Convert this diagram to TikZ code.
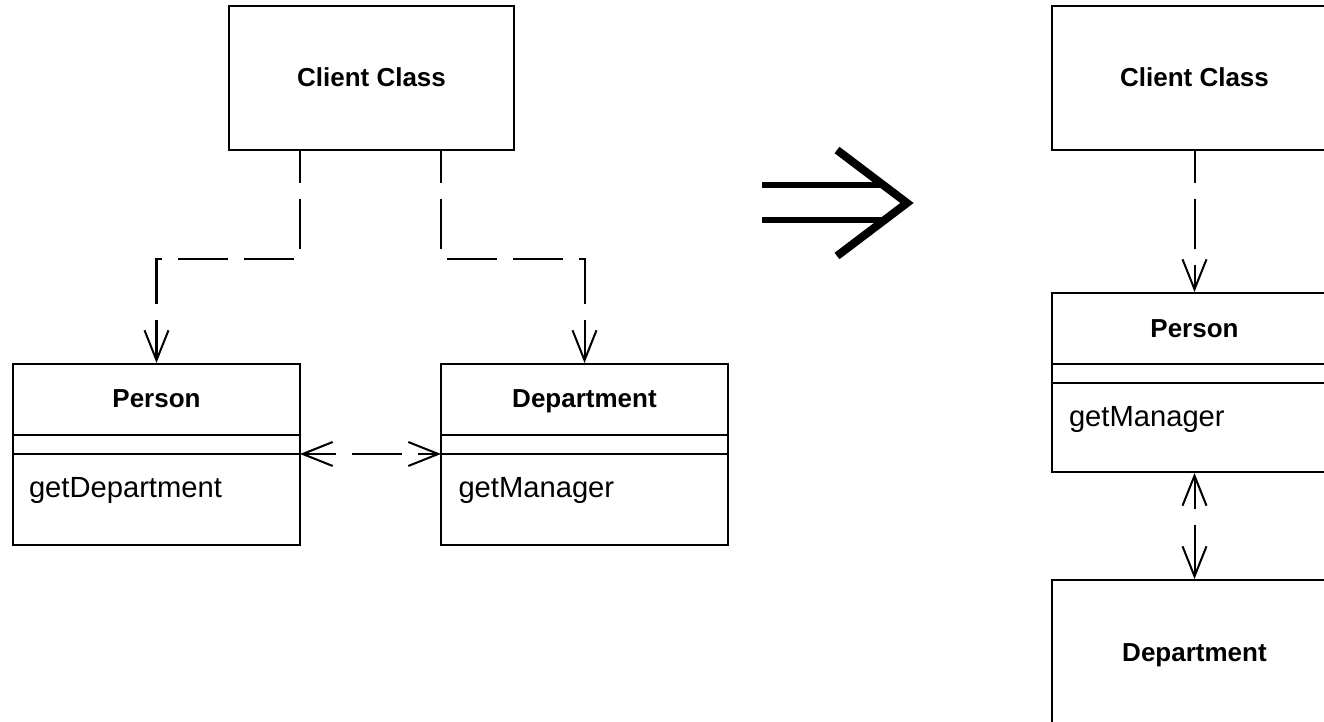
\documentclass[tikz,border=0pt]{standalone}
\usepackage{fontspec}
\setmainfont{Liberation Sans}
\usetikzlibrary{arrows.meta}

\begin{document}
\begin{tikzpicture}[
  line width=0.57pt,
  box/.style={draw, rectangle, inner sep=0pt},
  title/.style={anchor=base, inner sep=0pt, font=\fontsize{7.4}{8}\selectfont\bfseries},
  method/.style={anchor=base west, inner sep=0pt, font=\fontsize{8.3}{9}\selectfont},
  barb/.tip={Straight Barb[length=0.3cm,width=0.24cm]},
  dep/.style={dash pattern=on 0.5cm off 0.16cm, dash phase=0.18cm, -barb},
  bidep/.style={dash pattern=on 0.5cm off 0.16cm, dash phase=0.18cm, barb-barb}
]
\useasboundingbox (0,0) rectangle (13.24,-7.22);
\fill[white] (0,0) rectangle (13.24,-7.22);
\clip (0,0) rectangle (13.24,-7.22);

%Client (before)
\node[box, minimum width=2.85cm, minimum height=1.44cm] (clientL) at (3.715,-0.78) {};
\node[title] (clientLname) at (3.715,-0.87) {Client Class};

%Person (before)
\node[box, minimum width=2.87cm, minimum height=1.81cm] (personL) at (1.565,-4.545) {};
\node[title] (personLname) at (1.565,-4.08) {Person};
\draw (0.13,-4.35) -- (3.00,-4.35);
\draw (0.13,-4.54) -- (3.00,-4.54) coordinate (personLsep);
\node[method] (personLop) at (0.28,-4.98) {getDepartment};

%Department (before)
\node[box, minimum width=2.87cm, minimum height=1.81cm] (deptL) at (5.845,-4.545) {};
\node[title] (deptLname) at (5.845,-4.08) {Department};
\draw (4.41,-4.35) -- (7.28,-4.35);
\draw (4.41,-4.54) coordinate (deptLsep) -- (7.28,-4.54);
\node[method] (deptLop) at (4.575,-4.98) {getManager};

% connection (before)
\draw[dep] (clientL.south -| personLsep) -- ++(0,-1.08) -| (personL.north);
\draw[dep] (clientL.south -| deptLsep) -- ++(0,-1.08) -| (deptL.north);
\draw[bidep] (personLsep) -- (deptLsep);

%refactoring arrow
\draw[line width=1.9pt] (7.62,-1.85) -- (8.84,-1.85);
\draw[line width=1.9pt] (7.62,-2.20) -- (8.85,-2.20);
\draw[line width=2.3pt, line join=miter] (8.37,-1.50) -- (9.07,-2.03) -- (8.37,-2.56);

%Client (after)
\node[box, minimum width=2.85cm, minimum height=1.44cm] (clientR) at (11.945,-0.78) {};
\node[title] (clientRname) at (11.945,-0.87) {Client Class};

%Person (after)
\node[box, minimum width=2.85cm, minimum height=1.79cm] (personR) at (11.945,-3.825) {};
\node[title] (personRname) at (11.945,-3.38) {Person};
\draw (10.52,-3.64) -- (13.37,-3.64);
\draw (10.52,-3.83) -- (13.37,-3.83);
\node[method] (personRop) at (10.68,-4.27) {getManager};

%Department (after)
\node[box, minimum width=2.85cm, minimum height=1.45cm] (deptR) at (11.945,-6.525) {};
\node[title] (deptRname) at (11.945,-6.62) {Department};

% connection (after)
\draw[dep] (clientR.south) -- (personR.north);
\draw[bidep] (personR.south) -- (deptR.north);

\end{tikzpicture}
\end{document}
